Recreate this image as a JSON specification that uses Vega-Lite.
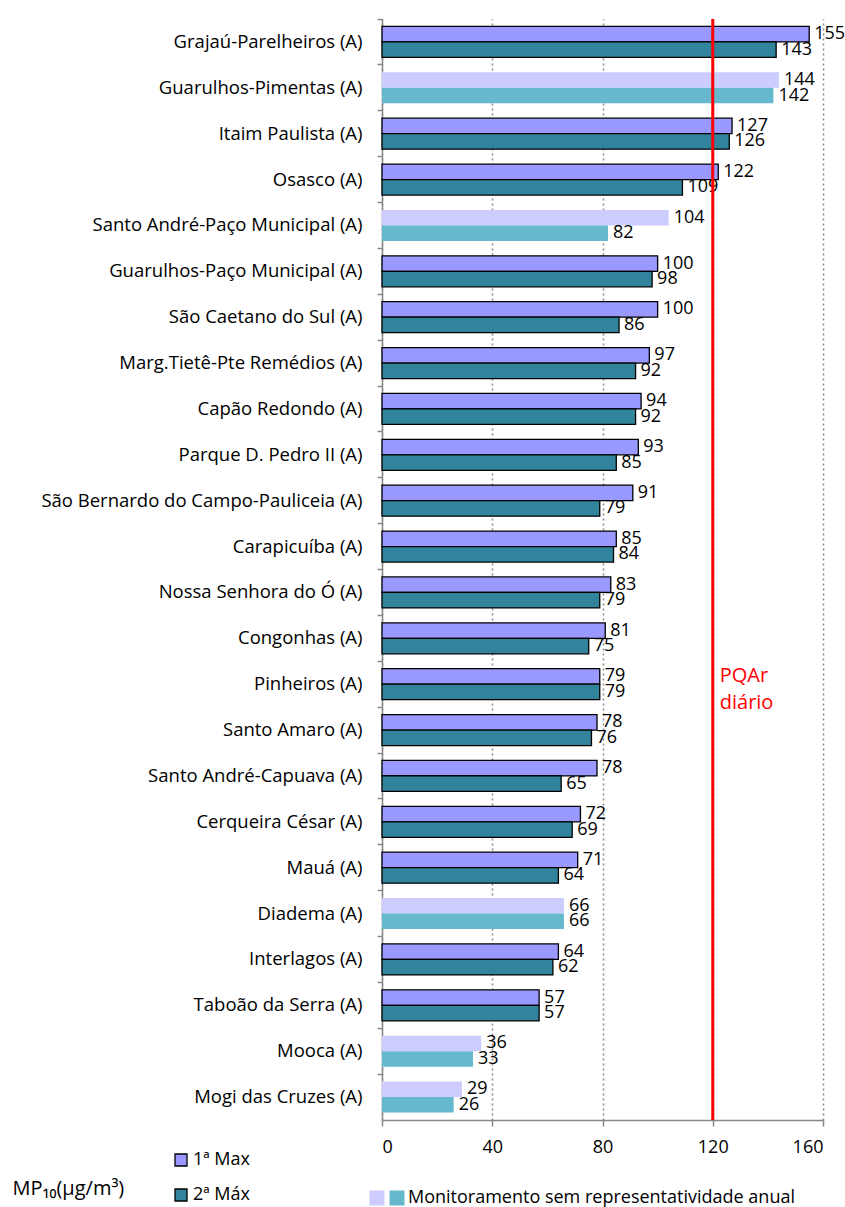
{
  "$schema": "https://vega.github.io/schema/vega-lite/v6.json",
  "autosize": "none",
  "padding": {"left": 382, "top": 19, "right": 22, "bottom": 87},
  "width": 441,
  "height": 1101,
  "background": "white",
  "config": {
    "font": "Open Sans",
    "view": {"stroke": null}
  },
  "datasets": {
    "mp10": [
      {"estacao": "Grajaú-Parelheiros (A)", "serie": "1ª Max", "valor": 155, "rep": true},
      {"estacao": "Grajaú-Parelheiros (A)", "serie": "2ª Máx", "valor": 143, "rep": true},
      {"estacao": "Guarulhos-Pimentas (A)", "serie": "1ª Max", "valor": 144, "rep": false},
      {"estacao": "Guarulhos-Pimentas (A)", "serie": "2ª Máx", "valor": 142, "rep": false},
      {"estacao": "Itaim Paulista (A)", "serie": "1ª Max", "valor": 127, "rep": true},
      {"estacao": "Itaim Paulista (A)", "serie": "2ª Máx", "valor": 126, "rep": true},
      {"estacao": "Osasco (A)", "serie": "1ª Max", "valor": 122, "rep": true},
      {"estacao": "Osasco (A)", "serie": "2ª Máx", "valor": 109, "rep": true},
      {"estacao": "Santo André-Paço Municipal (A)", "serie": "1ª Max", "valor": 104, "rep": false},
      {"estacao": "Santo André-Paço Municipal (A)", "serie": "2ª Máx", "valor": 82, "rep": false},
      {"estacao": "Guarulhos-Paço Municipal (A)", "serie": "1ª Max", "valor": 100, "rep": true},
      {"estacao": "Guarulhos-Paço Municipal (A)", "serie": "2ª Máx", "valor": 98, "rep": true},
      {"estacao": "São Caetano do Sul (A)", "serie": "1ª Max", "valor": 100, "rep": true},
      {"estacao": "São Caetano do Sul (A)", "serie": "2ª Máx", "valor": 86, "rep": true},
      {"estacao": "Marg.Tietê-Pte Remédios (A)", "serie": "1ª Max", "valor": 97, "rep": true},
      {"estacao": "Marg.Tietê-Pte Remédios (A)", "serie": "2ª Máx", "valor": 92, "rep": true},
      {"estacao": "Capão Redondo (A)", "serie": "1ª Max", "valor": 94, "rep": true},
      {"estacao": "Capão Redondo (A)", "serie": "2ª Máx", "valor": 92, "rep": true},
      {"estacao": "Parque D. Pedro II (A)", "serie": "1ª Max", "valor": 93, "rep": true},
      {"estacao": "Parque D. Pedro II (A)", "serie": "2ª Máx", "valor": 85, "rep": true},
      {"estacao": "São Bernardo do Campo-Pauliceia (A)", "serie": "1ª Max", "valor": 91, "rep": true},
      {"estacao": "São Bernardo do Campo-Pauliceia (A)", "serie": "2ª Máx", "valor": 79, "rep": true},
      {"estacao": "Carapicuíba (A)", "serie": "1ª Max", "valor": 85, "rep": true},
      {"estacao": "Carapicuíba (A)", "serie": "2ª Máx", "valor": 84, "rep": true},
      {"estacao": "Nossa Senhora do Ó (A)", "serie": "1ª Max", "valor": 83, "rep": true},
      {"estacao": "Nossa Senhora do Ó (A)", "serie": "2ª Máx", "valor": 79, "rep": true},
      {"estacao": "Congonhas (A)", "serie": "1ª Max", "valor": 81, "rep": true},
      {"estacao": "Congonhas (A)", "serie": "2ª Máx", "valor": 75, "rep": true},
      {"estacao": "Pinheiros (A)", "serie": "1ª Max", "valor": 79, "rep": true},
      {"estacao": "Pinheiros (A)", "serie": "2ª Máx", "valor": 79, "rep": true},
      {"estacao": "Santo Amaro (A)", "serie": "1ª Max", "valor": 78, "rep": true},
      {"estacao": "Santo Amaro (A)", "serie": "2ª Máx", "valor": 76, "rep": true},
      {"estacao": "Santo André-Capuava (A)", "serie": "1ª Max", "valor": 78, "rep": true},
      {"estacao": "Santo André-Capuava (A)", "serie": "2ª Máx", "valor": 65, "rep": true},
      {"estacao": "Cerqueira César (A)", "serie": "1ª Max", "valor": 72, "rep": true},
      {"estacao": "Cerqueira César (A)", "serie": "2ª Máx", "valor": 69, "rep": true},
      {"estacao": "Mauá (A)", "serie": "1ª Max", "valor": 71, "rep": true},
      {"estacao": "Mauá (A)", "serie": "2ª Máx", "valor": 64, "rep": true},
      {"estacao": "Diadema (A)", "serie": "1ª Max", "valor": 66, "rep": false},
      {"estacao": "Diadema (A)", "serie": "2ª Máx", "valor": 66, "rep": false},
      {"estacao": "Interlagos (A)", "serie": "1ª Max", "valor": 64, "rep": true},
      {"estacao": "Interlagos (A)", "serie": "2ª Máx", "valor": 62, "rep": true},
      {"estacao": "Taboão da Serra (A)", "serie": "1ª Max", "valor": 57, "rep": true},
      {"estacao": "Taboão da Serra (A)", "serie": "2ª Máx", "valor": 57, "rep": true},
      {"estacao": "Mooca (A)", "serie": "1ª Max", "valor": 36, "rep": false},
      {"estacao": "Mooca (A)", "serie": "2ª Máx", "valor": 33, "rep": false},
      {"estacao": "Mogi das Cruzes (A)", "serie": "1ª Max", "valor": 29, "rep": false},
      {"estacao": "Mogi das Cruzes (A)", "serie": "2ª Máx", "valor": 26, "rep": false}
    ],
    "padrao": [
      {"limite": 120, "estacao": "Pinheiros (A)", "rotulo": ["PQAr", "diário"]}
    ]
  },
  "layer": [
    {
      "data": {"name": "mp10"},
      "transform": [{"filter": "datum.rep"}],
      "mark": {"type": "bar", "stroke": "#000000", "strokeWidth": 1.3},
      "encoding": {
        "y": {
          "field": "estacao",
          "type": "nominal",
          "scale": {
            "domain": [
              "Grajaú-Parelheiros (A)", "Guarulhos-Pimentas (A)", "Itaim Paulista (A)", "Osasco (A)",
              "Santo André-Paço Municipal (A)", "Guarulhos-Paço Municipal (A)", "São Caetano do Sul (A)",
              "Marg.Tietê-Pte Remédios (A)", "Capão Redondo (A)", "Parque D. Pedro II (A)",
              "São Bernardo do Campo-Pauliceia (A)", "Carapicuíba (A)", "Nossa Senhora do Ó (A)",
              "Congonhas (A)", "Pinheiros (A)", "Santo Amaro (A)", "Santo André-Capuava (A)",
              "Cerqueira César (A)", "Mauá (A)", "Diadema (A)", "Interlagos (A)", "Taboão da Serra (A)",
              "Mooca (A)", "Mogi das Cruzes (A)"
            ],
            "paddingInner": 0,
            "paddingOuter": 0
          },
          "axis": {
            "title": null,
            "labelFontSize": 18.5,
            "labelColor": "#000000",
            "labelPadding": 15,
            "bandPosition": 0,
            "tickSize": 5,
            "tickColor": "#888888",
            "tickWidth": 1.5,
            "domainColor": "#888888",
            "domainWidth": 1.5,
            "grid": false,
            "labelLimit": 400
          }
        },
        "x": {
          "field": "valor",
          "type": "quantitative",
          "scale": {"domain": [0, 160], "nice": false},
          "axis": {
            "values": [0, 40, 80, 120, 160],
            "title": "MP₁₀(µg/m³)",
            "titleFontSize": 20,
            "titleFontWeight": "normal",
            "titleColor": "#000000",
            "titleX": -370,
            "titleY": 74,
            "titleAlign": "left",
            "titleAnchor": null,
            "titleBaseline": "alphabetic",
            "labelFontSize": 18,
            "labelColor": "#000000",
            "labelPadding": 12,
            "tickSize": 6,
            "tickColor": "#888888",
            "tickWidth": 1.5,
            "domainColor": "#888888",
            "domainWidth": 1.5,
            "grid": true,
            "gridColor": "#888888",
            "gridDash": [2, 3],
            "gridWidth": 1.5
          }
        },
        "yOffset": {
          "field": "serie",
          "type": "nominal",
          "scale": {"domain": ["1ª Max", "2ª Máx"], "paddingInner": 0, "paddingOuter": 0.48}
        },
        "color": {
          "field": "serie",
          "type": "nominal",
          "scale": {"domain": ["1ª Max", "2ª Máx"], "range": ["#9999FF", "#31849B"]},
          "legend": {
            "title": null,
            "orient": "none",
            "legendX": -210,
            "legendY": 1132,
            "direction": "vertical",
            "symbolType": "square",
            "symbolSize": 144,
            "symbolStrokeColor": "#000000",
            "symbolStrokeWidth": 1.3,
            "labelFontSize": 18,
            "labelColor": "#000000",
            "labelOffset": 3,
            "rowPadding": 17
          }
        }
      }
    },
    {
      "data": {"name": "mp10"},
      "transform": [{"filter": "!datum.rep"}],
      "mark": {"type": "bar"},
      "encoding": {
        "y": {"field": "estacao", "type": "nominal"},
        "x": {"field": "valor", "type": "quantitative"},
        "yOffset": {"field": "serie", "type": "nominal"},
        "fill": {
          "field": "serie",
          "type": "ordinal",
          "scale": {"domain": ["2ª Máx", "1ª Max"], "range": ["#66B8CC", "#CCCCFF"]},
          "legend": {
            "title": null,
            "values": ["1ª Max", "2ª Máx"],
            "orient": "none",
            "legendX": -14,
            "legendY": 1170,
            "direction": "horizontal",
            "symbolType": "square",
            "symbolSize": 225,
            "symbolStrokeWidth": 0,
            "labelFontSize": 18,
            "labelColor": "#000000",
            "labelOffset": 2,
            "columnPadding": 0,
            "labelExpr": "datum.value == '2ª Máx' ? 'Monitoramento sem representatividade anual' : ''",
            "labelLimit": 500
          }
        }
      }
    },
    {
      "data": {"name": "mp10"},
      "mark": {"type": "text", "align": "left", "baseline": "middle", "dx": 5, "fontSize": 18, "color": "#000000"},
      "encoding": {
        "y": {"field": "estacao", "type": "nominal"},
        "x": {"field": "valor", "type": "quantitative"},
        "yOffset": {"field": "serie", "type": "nominal"},
        "text": {"field": "valor", "type": "quantitative"}
      }
    },
    {
      "data": {"name": "padrao"},
      "mark": {"type": "rule", "color": "#FF0000", "strokeWidth": 3},
      "encoding": {
        "x": {"field": "limite", "type": "quantitative"}
      }
    },
    {
      "data": {"name": "padrao"},
      "mark": {"type": "text", "align": "left", "baseline": "middle", "dx": 7, "dy": -8, "fontSize": 20, "lineHeight": 27, "color": "#FF0000"},
      "encoding": {
        "y": {"field": "estacao", "type": "nominal"},
        "x": {"field": "limite", "type": "quantitative"},
        "text": {"field": "rotulo"}
      }
    }
  ]
}
